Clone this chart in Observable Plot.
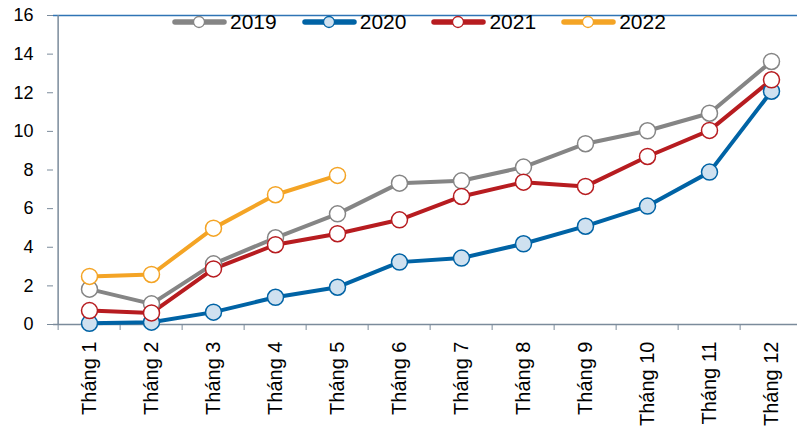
<!DOCTYPE html>
<html>
<head>
<meta charset="utf-8">
<script src="https://cdn.jsdelivr.net/npm/d3@7"></script>
<script src="https://cdn.jsdelivr.net/npm/@observablehq/plot@0.6"></script>
<style>
  body { margin: 0; background: #fff; }
  #chart { position: relative; width: 797px; height: 426px; overflow: hidden;
           font-family: "Liberation Sans", Arial, sans-serif; }
  #legend { position: absolute; top: 10px; left: 172px; display: flex; gap: 25px; }
  .item { display: flex; align-items: center; height: 24px; }
  .item span { font-size: 21px; line-height: 24px; color: #000; margin-left: 3px; }
</style>
</head>
<body>
<div id="chart"><div id="legend"></div></div>
<script>
// Categories and series
const months = ["Tháng 1", "Tháng 2", "Tháng 3", "Tháng 4", "Tháng 5", "Tháng 6",
                "Tháng 7", "Tháng 8", "Tháng 9", "Tháng 10", "Tháng 11", "Tháng 12"];
const years = ["2019", "2020", "2021", "2022"];
const v2019 = [1.83, 1.07, 3.14, 4.49, 5.73, 7.32, 7.44, 8.15, 9.36, 10.03, 10.94, 13.62];
const v2020 = [0.06, 0.12, 0.64, 1.41, 1.93, 3.23, 3.44, 4.18, 5.09, 6.13, 7.89, 12.08];
const v2021 = [0.72, 0.60, 2.88, 4.13, 4.70, 5.42, 6.63, 7.37, 7.15, 8.70, 10.05, 12.67];
const v2022 = [2.49, 2.59, 4.99, 6.72, 7.72];
const yTicks = [0, 2, 4, 6, 8, 10, 12, 14, 16];

const colors = {"2019": "#858585", "2020": "#0063a5", "2021": "#b71c20", "2022": "#f4a425"};
const fills  = {"2019": "#ffffff", "2020": "#cfe1f0", "2021": "#ffffff", "2022": "#ffffff"};

const seriesValues = {"2019": v2019, "2020": v2020, "2021": v2021, "2022": v2022};
const data = years.flatMap(year =>
  seriesValues[year].map((value, i) => ({year, month: months[i], value})));

const W = 797, H = 426;
const xRange = [53, 806];
const step = (xRange[1] - xRange[0]) / months.length;
const axisColor = "#7b8b9b";

const plot = Plot.plot({
  width: W,
  height: H,
  marginLeft: 53,
  marginRight: 0,
  marginTop: 15,
  marginBottom: 102,
  style: {fontFamily: "'Liberation Sans', Arial, sans-serif", fontSize: "18px", color: "#000", background: "#fff"},
  x: {type: "point", domain: months, range: xRange, padding: 0.5, label: null},
  y: {domain: [0, 16], label: null},
  color: {domain: years, range: years.map(y => colors[y])},
  marks: [
    // top border and left/bottom axis lines
    Plot.ruleY([16], {stroke: "#2f74b5", strokeWidth: 1.5}),
    Plot.ruleX([months[0]], {dx: -step / 2, stroke: axisColor, strokeWidth: 1.5}),
    Plot.ruleY([0], {stroke: axisColor, strokeWidth: 1.5}),
    Plot.axisY({ticks: yTicks, tickSize: 6, tickPadding: 14, stroke: axisColor, fill: "#000", fontSize: 18, label: null}),
    // category boundary ticks
    Plot.axisX({tickSize: 6, tickFormat: () => "", dx: -step / 2, stroke: axisColor, label: null}),
    // rotated month labels
    Plot.axisX({tickSize: 0, tickPadding: 17, tickRotate: -90, fill: "#000", fontSize: 20, label: null}),
    Plot.line(data, {x: "month", y: "value", z: "year", stroke: d => colors[d.year], strokeWidth: 4}),
    Plot.dot(data, {x: "month", y: "value", r: 8, stroke: d => colors[d.year], fill: d => fills[d.year], strokeWidth: 1.5})
  ]
});
const chart = document.getElementById("chart");
chart.insertBefore(plot, chart.firstChild);

// Legend drawn on top of the plot area
const legend = document.getElementById("legend");
for (const year of years) {
  const item = document.createElement("div");
  item.className = "item";
  item.innerHTML =
    `<svg width="55" height="24"><line x1="3" x2="52" y1="12" y2="12" stroke="${colors[year]}" stroke-width="5.5" stroke-linecap="round"/>` +
    `<circle cx="27" cy="12" r="5.5" fill="${fills[year]}" stroke="${colors[year]}" stroke-width="1.3"/></svg>` +
    `<span>${year}</span>`;
  legend.appendChild(item);
}
</script>
</body>
</html>
